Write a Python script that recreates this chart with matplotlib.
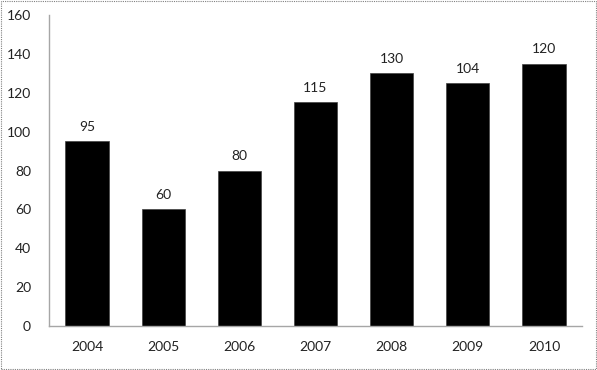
import matplotlib
matplotlib.use("Agg")
import matplotlib.pyplot as plt
from matplotlib.patches import Rectangle

years = ["2004", "2005", "2006", "2007", "2008", "2009", "2010"]
bar_values = [95, 60, 80, 115, 130, 125, 135]
bar_labels = ["95", "60", "80", "115", "130", "104", "120"]
y_ticks = [0, 20, 40, 60, 80, 100, 120, 140, 160]

plt.rcParams['font.family'] = ['Lato', 'DejaVu Sans']

fig = plt.figure(figsize=(5.97, 3.70), dpi=100)
ax = fig.add_axes([49/597, 44/370, (582-49)/597, (326-15)/370])

x = list(range(len(years)))
bars = ax.bar(x, bar_values, width=0.57, color='black', edgecolor='#404040', linewidth=0.5)
for xi, v, lab in zip(x, bar_values, bar_labels):
    ax.annotate(lab, (xi, v), xytext=(0, 6), textcoords='offset points',
                ha='center', va='bottom', fontsize=10, color='#222222')

ax.set_xlim(-0.5, len(years) - 0.5)
ax.set_ylim(0, 160)
ax.set_yticks(y_ticks)
ax.set_xticks(x)
ax.set_xticklabels(years)
ax.tick_params(axis='both', length=0, labelsize=10, colors='#222222')
ax.tick_params(axis='y', pad=13)
ax.tick_params(axis='x', pad=11)
for s in ['top', 'right']:
    ax.spines[s].set_visible(False)
for s in ['left', 'bottom']:
    ax.spines[s].set_color('#a6a6a6')
    ax.spines[s].set_linewidth(1)

fig.patches.append(Rectangle((1/597, 1/370), 595/597, 368/370, transform=fig.transFigure,
                             fill=False, edgecolor='#808080', linestyle=(0, (1, 1)), linewidth=0.8))

fig.savefig("out.png", dpi=100)
